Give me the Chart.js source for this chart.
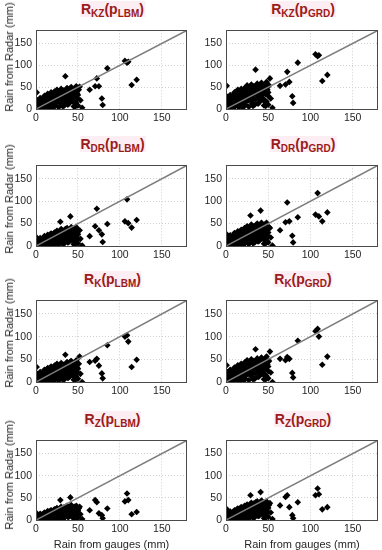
<!DOCTYPE html>
<html lang="en">

<head>
    <meta charset="UTF-8">
    <meta name="viewport" content="width=device-width, initial-scale=1.0">
    <title>Rain from Radar vs gauges</title>
    <style>
        body { margin: 0; background: #fff; width: 382px; height: 550px; position: relative; overflow: hidden; font-family: "Liberation Sans", Arial, sans-serif; }
        canvas { position: absolute; }
        .titulo { position: absolute; transform: translateX(-50%); white-space: nowrap; font-weight: bold; font-size: 14px; line-height: 16px; color: #9a1b1b; background: #fdeef3; padding: 0 1px; }
        .titulo sub { font-size: 10px; vertical-align: -3px; line-height: 0; }
        .ytitulo { position: absolute; left: 9px; transform: translate(-50%, -50%) rotate(-90deg); white-space: nowrap; font-size: 11px; color: #262626; }
    </style>
</head>

<body>
    <script src="https://cdn.jsdelivr.net/npm/chart.js"></script>
    <script>
        // lluvia de pluviometros (mm), comun a los 8 paneles
        const gauge = [1, 1, 2, 2, 3, 3, 4, 5, 5, 6, 7, 8, 8, 9, 10, 10, 11, 12, 13, 14, 15, 15, 16, 17, 18, 19, 20, 20, 21, 22,
            23, 24, 25, 25, 26, 27, 28, 30, 30, 31, 32, 33, 34, 36, 37, 38, 39, 40, 40, 42, 43, 44, 45, 46, 47, 48, 48, 49, 50, 51,
            0.5, 1.5, 2.5, 3.5, 4.5, 6, 7, 9, 11, 12, 13, 14, 16, 17, 18, 19, 21, 22, 23, 24, 26, 27, 28, 29, 31, 32, 33, 34, 35, 36,
            37, 38, 39, 41, 42, 43, 44, 45, 46, 47, 49, 50, 2, 5, 8, 11, 14, 17, 20, 23, 26, 29, 32, 35, 38, 41, 44, 47, 50, 53,
            0.8, 29, 35, 41, 52, 55, 64, 70.5, 72.5, 75, 78.5, 79.5, 85, 106, 108.5, 110, 114, 120]

        // lluvia estimada por radar (mm)
        const rKzLbm = [3, 12, 1, 20, 6, 15, 2, 10, 25, 4, 14, 1, 22, 8, 18, 30, 5, 24, 12, 35, 3, 20, 28, 10, 38, 16, 2, 30, 22, 40,
            8, 32, 18, 44, 26, 4, 38, 14, 46, 30, 20, 42, 8, 36, 48, 24, 12, 44, 30, 50, 18, 38, 6, 46, 28, 52, 14, 36, 24, 44,
            6, 8, 10, 13, 7, 18, 8, 20, 14, 9, 28, 17, 22, 32, 6, 26, 34, 14, 27, 38, 16, 34, 24, 42, 10, 36, 28, 40, 18, 44,
            32, 40, 22, 36, 28, 44, 20, 40, 14, 34, 42, 8, 5, 4, 12, 22, 8, 20, 12, 16, 36, 22, 6, 30, 10, 16, 28, 6, 32, 20,
            38, 40, 75, 48, 51, 3, 44, 52, 70, 52, 24, 9, 93, 110, 106, 108, 55, 67]
        const rKzGrd = [5, 16, 2, 28, 8, 20, 3, 14, 32, 6, 18, 2, 30, 10, 24, 38, 7, 30, 15, 44, 4, 26, 35, 13, 46, 20, 3, 38, 28, 48,
            10, 40, 22, 54, 32, 5, 46, 18, 56, 36, 25, 52, 10, 44, 58, 30, 15, 54, 36, 60, 22, 46, 8, 56, 34, 62, 17, 44, 30, 54,
            7, 10, 12, 16, 8, 22, 10, 24, 17, 11, 34, 20, 26, 38, 7, 31, 41, 17, 32, 46, 19, 41, 29, 50, 12, 43, 34, 48, 22, 53,
            38, 48, 26, 43, 34, 53, 24, 48, 17, 41, 50, 10, 6, 5, 14, 26, 10, 24, 14, 19, 43, 26, 7, 36, 12, 19, 34, 7, 38, 24,
            53, 50, 90, 55, 70, 3, 53, 56, 85, 62, 29, 14, 106, 125, 121, 123, 64, 78]
        const rDrLbm = [2, 8, 1, 14, 4, 10, 1, 6, 18, 3, 9, 1, 16, 5, 12, 22, 3, 17, 8, 25, 2, 14, 20, 7, 28, 11, 1, 22, 15, 30,
            5, 24, 12, 34, 19, 3, 30, 10, 38, 22, 14, 34, 6, 28, 40, 18, 9, 36, 22, 42, 13, 30, 4, 38, 21, 42, 10, 28, 17, 34,
            5, 6, 8, 10, 6, 14, 6, 16, 11, 7, 22, 14, 18, 26, 5, 21, 27, 11, 22, 30, 13, 27, 19, 34, 8, 29, 22, 32, 14, 35,
            26, 32, 18, 29, 22, 35, 16, 32, 11, 27, 34, 6, 4, 3, 10, 18, 6, 16, 10, 13, 29, 18, 5, 24, 8, 13, 22, 5, 26, 16,
            19, 54, 38, 66, 35, 1, 22, 44, 83, 35, 26, 9, 49, 55, 104, 51, 41, 58]
        const rDrGrd = [3, 11, 1, 19, 5, 14, 2, 8, 24, 4, 12, 1, 21, 7, 16, 29, 4, 22, 10, 33, 3, 18, 26, 9, 36, 14, 2, 29, 20, 40,
            7, 31, 16, 44, 25, 4, 40, 13, 48, 29, 18, 44, 8, 36, 50, 23, 11, 46, 29, 52, 17, 38, 5, 48, 27, 52, 13, 36, 22, 42,
            6, 8, 10, 12, 7, 17, 8, 19, 13, 9, 27, 16, 21, 30, 6, 25, 32, 13, 26, 36, 15, 32, 23, 40, 10, 34, 27, 38, 17, 42,
            30, 38, 21, 34, 27, 42, 19, 38, 13, 32, 40, 8, 5, 4, 11, 21, 8, 19, 11, 15, 34, 21, 6, 29, 10, 15, 27, 6, 30, 19,
            26, 68, 45, 79, 40, 1, 35, 53, 97, 55, 23, 8, 64, 70, 118, 66, 55, 75]
        const rKLbm = [2, 10, 1, 18, 5, 13, 1, 8, 22, 3, 12, 1, 20, 6, 15, 27, 4, 21, 10, 31, 2, 17, 25, 8, 34, 14, 1, 27, 19, 36,
            6, 29, 15, 40, 23, 3, 35, 12, 42, 27, 17, 38, 6, 32, 44, 21, 10, 40, 26, 46, 15, 34, 5, 42, 24, 48, 11, 32, 20, 40,
            5, 7, 9, 12, 6, 16, 7, 18, 13, 8, 25, 15, 20, 29, 5, 23, 31, 13, 24, 34, 14, 31, 22, 38, 9, 32, 25, 36, 16, 40,
            29, 36, 20, 32, 25, 40, 18, 36, 13, 31, 38, 7, 5, 4, 11, 20, 7, 18, 11, 14, 32, 20, 5, 27, 9, 14, 25, 5, 29, 18,
            33, 38, 60, 45, 56, 0, 44, 47, 51, 36, 19, 8, 81, 100, 103, 89, 33, 49]
        const rKGrd = [3, 12, 1, 22, 6, 16, 2, 10, 27, 4, 14, 1, 24, 7, 18, 32, 5, 25, 12, 37, 3, 20, 30, 10, 40, 17, 2, 32, 23, 43,
            7, 35, 18, 48, 28, 4, 42, 14, 50, 32, 20, 46, 7, 38, 52, 25, 12, 48, 31, 54, 18, 40, 6, 50, 29, 56, 13, 38, 24, 46,
            6, 8, 11, 14, 7, 19, 8, 21, 15, 9, 29, 18, 23, 34, 6, 27, 36, 15, 28, 40, 17, 36, 25, 44, 11, 38, 29, 42, 19, 46,
            34, 42, 23, 38, 29, 46, 21, 42, 15, 36, 44, 8, 5, 4, 13, 23, 8, 21, 13, 17, 38, 23, 6, 32, 11, 17, 29, 6, 34, 21,
            37, 45, 72, 50, 67, 0, 51, 48, 55, 51, 20, 10, 91, 112, 117, 100, 38, 56]
        const rZLbm = [1, 7, 1, 11, 3, 8, 1, 5, 14, 2, 7, 1, 13, 4, 9, 17, 2, 13, 6, 20, 1, 11, 16, 5, 22, 9, 1, 18, 12, 24,
            4, 19, 10, 27, 15, 2, 24, 8, 30, 18, 11, 28, 5, 23, 32, 14, 7, 30, 18, 34, 10, 24, 3, 30, 17, 32, 8, 22, 13, 26,
            4, 5, 7, 8, 5, 12, 5, 13, 9, 6, 18, 11, 14, 21, 4, 17, 22, 9, 18, 25, 10, 22, 16, 27, 7, 23, 18, 26, 12, 29,
            21, 26, 14, 23, 18, 29, 13, 26, 9, 22, 27, 5, 3, 3, 8, 14, 5, 13, 8, 10, 23, 14, 4, 20, 7, 10, 18, 4, 21, 13,
            15, 45, 30, 51, 30, 2, 22, 45, 40, 15, 11, 4, 26, 42, 60, 45, 13, 18]
        const rZGrd = [1, 9, 1, 15, 4, 11, 1, 7, 19, 3, 9, 1, 17, 5, 12, 22, 3, 17, 8, 26, 2, 14, 21, 7, 29, 12, 1, 24, 16, 32,
            5, 25, 13, 35, 20, 3, 32, 10, 39, 24, 14, 37, 6, 30, 42, 18, 9, 39, 23, 44, 13, 31, 4, 39, 22, 42, 10, 29, 17, 34,
            5, 7, 9, 11, 6, 15, 7, 17, 12, 8, 24, 14, 19, 27, 5, 22, 29, 12, 23, 32, 14, 29, 20, 36, 9, 31, 24, 34, 15, 37,
            27, 34, 19, 31, 24, 37, 17, 34, 12, 29, 36, 7, 4, 3, 10, 19, 7, 17, 10, 14, 31, 19, 5, 26, 9, 14, 24, 5, 27, 17,
            25, 56, 40, 63, 38, 2, 33, 52, 56, 29, 11, 4, 40, 56, 71, 58, 24, 29]

        const series = [rKzLbm, rKzGrd, rDrLbm, rDrGrd, rKLbm, rKGrd, rZLbm, rZGrd]
        const titulos = [["KZ", "LBM"], ["KZ", "GRD"], ["DR", "LBM"], ["DR", "GRD"], ["K", "LBM"], ["K", "GRD"], ["Z", "LBM"], ["Z", "GRD"]]
        const ejeTicks = [0, 50, 100, 150]
        const diagonal = [0, 180]

        // posicion de cada area de grafico
        const filaTop = [28, 163, 298, 438]
        const filaAlto = [81, 83, 84, 82]
        const yTituloCentro = [57, 199, 333, 475]
        const colCanvas = [0, 191]
        const colEje = [36, 35]

        // recuadro alrededor del area de datos
        const marco = {
            id: "marco",
            afterDraw(chart) {
                const a = chart.chartArea
                const ctx = chart.ctx
                ctx.save()
                ctx.strokeStyle = "#4a4a4a"
                ctx.lineWidth = 1
                ctx.strokeRect(Math.round(a.left) + 0.5, Math.round(a.top) + 0.5, Math.round(a.right - a.left) - 1, Math.round(a.bottom - a.top))
                ctx.restore()
            }
        }

        const fuenteTick = { family: "'Liberation Sans', Arial, sans-serif", size: 10.5 }
        const fuenteTitulo = { family: "'Liberation Sans', Arial, sans-serif", size: 11 }

        series.forEach((radar, i) => {
            let fila = Math.floor(i / 2)
            let col = i % 2
            let altoEjeX = fila == 3 ? 32 : 20

            let canvas = document.createElement("canvas")
            canvas.width = 191
            canvas.height = 8 + filaAlto[fila] + altoEjeX
            canvas.style.left = colCanvas[col] + "px"
            canvas.style.top = (filaTop[fila] - 8) + "px"
            document.body.appendChild(canvas)

            let titulo = document.createElement("div")
            titulo.className = "titulo"
            titulo.innerHTML = "R<sub>" + titulos[i][0] + "</sub>(p<sub>" + titulos[i][1] + "</sub>)"
            titulo.style.left = (col == 0 ? 112.5 : 303) + "px"
            titulo.style.top = (filaTop[fila] - 27) + "px"
            document.body.appendChild(titulo)

            if (col == 0) {
                let yTitulo = document.createElement("div")
                yTitulo.className = "ytitulo"
                yTitulo.textContent = "Rain from Radar (mm)"
                yTitulo.style.top = yTituloCentro[fila] + "px"
                document.body.appendChild(yTitulo)
            }

            new Chart(canvas, {
                type: "scatter",
                data: {
                    datasets: [{
                        type: "line",
                        data: diagonal.map(v => ({ x: v, y: v })),
                        borderColor: "#7d7d7d",
                        borderWidth: 1.5,
                        pointRadius: 0,
                        order: 0
                    }, {
                        data: gauge.map((g, k) => ({ x: g, y: radar[k] })),
                        pointStyle: "rectRot",
                        pointRadius: 3.3,
                        backgroundColor: "#000",
                        borderColor: "#000",
                        borderWidth: 0,
                        order: 1
                    }]
                },
                options: {
                    animation: false,
                    responsive: false,
                    layout: { padding: { top: 8, right: 2, bottom: 0, left: 0 } },
                    plugins: { legend: { display: false }, tooltip: { enabled: false } },
                    scales: {
                        x: {
                            type: "linear", min: 0, max: 180,
                            afterBuildTicks: s => { s.ticks = ejeTicks.map(v => ({ value: v })) },
                            afterFit: s => { s.height = altoEjeX },
                            grid: { color: "#cfcfcf", drawTicks: false },
                            border: { display: false, dash: [1, 2] },
                            ticks: { font: fuenteTick, color: "#262626", padding: 3, maxRotation: 0 },
                            title: { display: fila == 3, text: "Rain from gauges (mm)", font: fuenteTitulo, color: "#262626", padding: { top: 0, bottom: 0 } }
                        },
                        y: {
                            type: "linear", min: 0, max: 180,
                            afterBuildTicks: s => { s.ticks = ejeTicks.map(v => ({ value: v })) },
                            afterFit: s => { s.width = colEje[col] },
                            grid: { color: "#cfcfcf", drawTicks: false },
                            border: { display: false, dash: [1, 2] },
                            ticks: { font: fuenteTick, color: "#262626", padding: 4 }
                        }
                    }
                },
                plugins: [marco]
            })
        })
    </script>
</body>

</html>
